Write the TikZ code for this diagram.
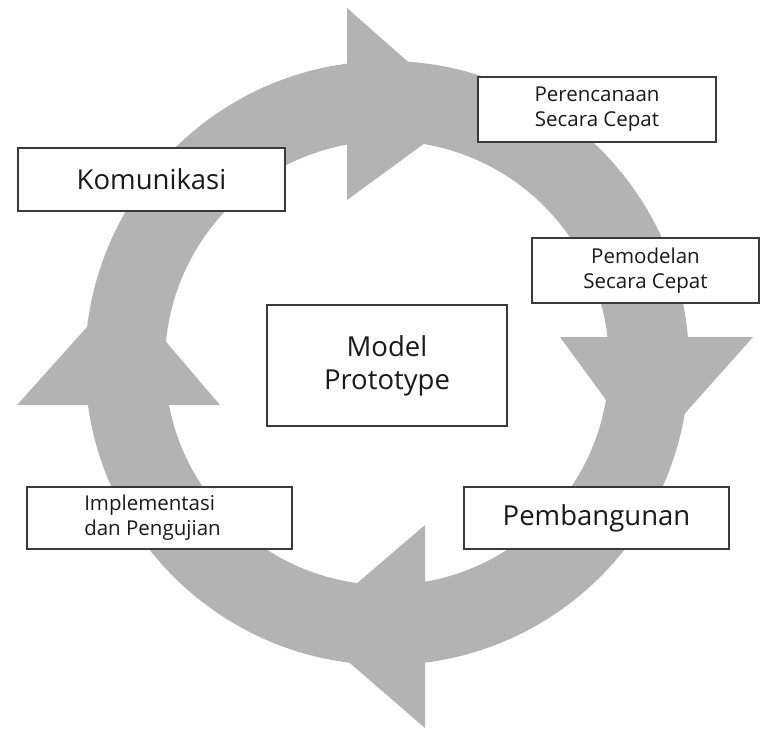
\documentclass[tikz,border=0pt]{standalone}
\usepackage{fontspec}
\setmainfont{Open Sans}
\definecolor{ringgray}{HTML}{B3B3B3}
\definecolor{boxline}{HTML}{3A3A3A}
\definecolor{textdark}{HTML}{1A1A1A}

\begin{document}
\begin{tikzpicture}[x=1pt, y=-1pt,
    stage/.style={draw=boxline, line width=1.3pt, fill=white, text=textdark, align=center, inner sep=0pt},
    bigtext/.style={font=\fontsize{27.5}{33}\selectfont},
    smalltext/.style={font=\fontsize{20.5}{25}\selectfont}]
    \useasboundingbox (0,0) rectangle (760,729);

    % the cycle ring
    \fill[ringgray, even odd rule] (387,363) circle (302pt) (387,363) circle (222pt);

    % arrow heads: base end, base end, tip
    \foreach \ax/\ay/\bx/\by/\tx/\ty in {
        347/8/347/200/466/113,
        560/337/753/337/647/456,
        425/525/425/728/307/626,
        17/405/220/405/121/289
    } {
        \fill[ringgray] (\ax,\ay) -- (\tx,\ty) -- (\bx,\by) -- cycle;
    }

    \node[stage, bigtext, minimum width=267pt, minimum height=63pt] (komunikasi) at (151.5,179.5) {Komunikasi};
    \node[stage, smalltext, minimum width=238pt, minimum height=65pt] (perencanaan) at (597,109.5) {Perencanaan\\Secara Cepat};
    \node[stage, smalltext, minimum width=227pt, minimum height=65pt] (pemodelan) at (645.5,270.5) {Pemodelan\\Secara Cepat};
    \node[stage, bigtext, minimum width=240pt, minimum height=121pt] (model) at (387,365.5) {Model\\Prototype};
    \node[stage, smalltext, align=left, minimum width=265pt, minimum height=62pt] (implementasi) at (159.5,518) {Implementasi\\dan Pengujian\hspace*{14pt}};
    \node[stage, bigtext, minimum width=265pt, minimum height=62pt] (pembangunan) at (596.5,518) {Pembangunan};
\end{tikzpicture}
\end{document}
